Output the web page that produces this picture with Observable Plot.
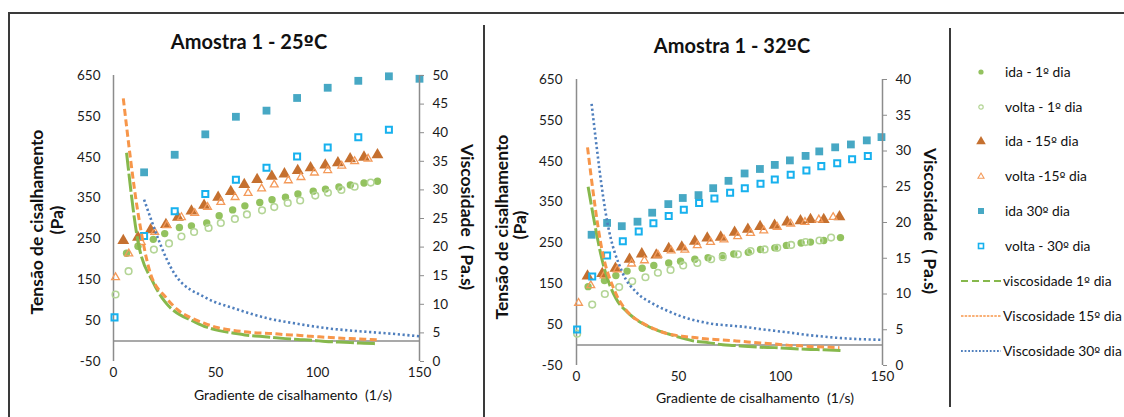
<!DOCTYPE html>
<html>
<head>
<meta charset="utf-8">
<script src="https://cdn.jsdelivr.net/npm/d3@7"></script>
<script src="https://cdn.jsdelivr.net/npm/@observablehq/plot@0.6"></script>
<style>
  body { margin: 0; background: #fff; }
  #chart { position: relative; width: 1124px; height: 417px; overflow: hidden; background: #fff; font-family: Lato, "Open Sans", sans-serif; color: #111; }
  #chart svg.layer { position: absolute; left: 0; top: 0; }
  .txt { position: absolute; white-space: pre; line-height: 1; transform-origin: center center; }
  .frame { position: absolute; background: #3a3a3a; }
  .leg { position: absolute; font-size: 13.8px; white-space: pre; line-height: 1; }
  .ord { font-family: "DejaVu Sans", "Liberation Sans", sans-serif; font-size: 0.92em; }
</style>
</head>
<body>
<div id="chart"></div>
<script>
// ---- Amostra 1 - 25ºC : shear stress (Pa) vs shear rate (1/s)
const ida1_25_x   = [6.4, 12, 19.5, 25.1, 32.3, 38.2, 45.7, 51.8, 58.4, 64.4, 71.7, 77.7, 84.3, 90.4, 97.9, 103.9, 110.5, 116.1, 122.8, 129.4];
const ida1_25_y   = [215, 232, 249, 263, 278, 282, 289, 307, 321, 331, 339, 346, 352, 360, 367, 372, 377, 382, 387, 391];
const volta1_25_x = [1, 7.4, 19.8, 27.2, 33.3, 39.5, 46.6, 52.6, 59.5, 65.4, 72.8, 78.8, 85.4, 91.5, 98.9, 105.1, 111.7, 118.2, 126.1];
const volta1_25_y = [114, 171, 224, 239, 256, 267, 277, 289, 299, 310, 320, 328, 338, 344, 356, 363, 370, 378, 388];
const ida15_25_x  = [4.8, 12, 18.2, 25.7, 31.6, 38.2, 44.4, 51.3, 57.5, 64.1, 70.4, 77.6, 83.8, 90.3, 96.6, 103.8, 110, 116, 122.8, 129.4];
const ida15_25_y  = [246, 254, 272, 285, 303, 318, 332, 352, 366, 383, 395, 403, 409, 417, 424, 431, 436, 446, 450, 456];
const volta15_25_x = [1, 7.5, 13.6, 20.2, 26.1, 33.3, 39.8, 46.1, 52.6, 59.6, 66, 72.6, 78.8, 85.7, 91.9, 98.5, 105, 111.9, 118.2, 124.8];
const volta15_25_y = [156, 214, 242, 267, 283, 303, 313, 328, 340, 352, 362, 373, 383, 393, 401, 412, 418, 429, 440, 446];
const ida30_25_x  = [15, 30, 45, 60, 75, 90, 105, 120, 135, 150];
const ida30_25_y  = [413, 456, 506, 549, 564, 595, 620, 637, 648, 642];
const volta30_25_x = [0.5, 15, 30, 45, 60, 75, 90, 105, 120, 135];
const volta30_25_y = [58, 257, 318, 360, 395, 424, 452, 474, 499, 517];
// viscosity (Pa.s), read at the "ida" shear rates of each day
const visc1_25  = [36.5, 21, 13.8, 10.5, 8.2, 7.2, 6.0, 5.4, 5.0, 4.65, 4.4, 4.2, 4.0, 3.85, 3.7, 3.5, 3.4, 3.3, 3.2, 3.1];
const visc15_25 = [46, 26, 15.3, 11.2, 9.0, 7.6, 6.7, 5.9, 5.5, 5.2, 5.0, 4.9, 4.7, 4.6, 4.4, 4.25, 4.1, 4.0, 3.9, 3.8];
const visc30_25 = [28.3, 15.3, 11.2, 9.2, 7.6, 6.6, 5.8, 5.3, 4.9, 4.4];

// ---- Amostra 1 - 32ºC
const ida1_32_x   = [5.7, 13.7, 19.3, 24.8, 32.2, 37.9, 45.2, 51, 58, 64.5, 71.6, 77.1, 84.2, 90.2, 97.2, 102.9, 110.1, 114.7, 121.2, 129.4];
const ida1_32_y   = [143, 158, 170, 181, 188, 195, 201, 205, 210, 214, 219, 223, 227, 234, 238, 244, 250, 252, 256, 263];
const volta1_32_x = [0.3, 7.7, 13.9, 20.9, 27.3, 33.8, 39.9, 46.1, 52.3, 59.2, 66, 71.7, 79.1, 85.3, 92.2, 98.4, 105.2, 112.3, 119.1, 124.8];
const volta1_32_y = [28, 99, 125, 142, 156, 166, 177, 184, 195, 201, 210, 215, 222, 230, 234, 238, 245, 252, 256, 263];
const ida15_32_x  = [5.4, 12.6, 19.1, 26, 32, 39.1, 45.2, 51.6, 58, 64.1, 70.7, 77.5, 84, 90, 97.1, 103.3, 109.8, 114.7, 121.2, 128.9];
const ida15_32_y  = [169, 175, 188, 210, 223, 220, 236, 240, 254, 262, 264, 276, 283, 290, 293, 301, 304, 307, 307, 314];
const volta15_32_x = [1, 7, 13.5, 20, 27, 33.3, 39.9, 46.4, 53.1, 59.2, 65.7, 72.3, 79, 85.3, 91.8, 98.4, 105, 112, 118.8, 125.8];
const volta15_32_y = [103, 146, 170, 185, 199, 207, 221, 231, 233, 244, 252, 258, 266, 274, 280, 289, 297, 301, 307, 313];
const ida30_32_x  = [7.4, 15, 22.2, 29.9, 37.1, 45, 52.1, 59.8, 67, 74.5, 82.4, 89.9, 97.2, 104.6, 112.3, 119, 126.8, 134.5, 142.3, 149.5];
const ida30_32_y  = [270, 299, 291, 302, 324, 345, 360, 367, 384, 402, 420, 431, 441, 452, 463, 474, 484, 491, 501, 509];
const volta30_32_x = [0.3, 7.7, 15, 22.7, 30.5, 37.7, 45.2, 52.6, 60.1, 67.6, 75.3, 82.5, 90.2, 97.2, 105, 112.7, 120, 127.8, 135.1, 142.8];
const volta30_32_y = [38, 168, 219, 254, 278, 298, 316, 331, 348, 359, 373, 384, 395, 405, 417, 427, 438, 445, 455, 463];
const visc1_32  = [25, 13.5, 9.4, 7.5, 5.9, 5.1, 4.4, 3.9, 3.4, 3.2, 2.9, 2.8, 2.65, 2.55, 2.5, 2.4, 2.3, 2.25, 2.2, 2.1];
const visc15_32 = [30.5, 16, 10.2, 7.2, 6.0, 5.0, 4.4, 4.1, 3.9, 3.7, 3.6, 3.45, 3.3, 3.15, 3.0, 2.85, 2.75, 2.65, 2.6, 2.5];
const visc30_32 = [36.6, 20.2, 13.2, 10.1, 8.7, 7.6, 6.8, 6.2, 5.8, 5.6, 5.4, 5.1, 4.85, 4.6, 4.3, 4.1, 3.9, 3.75, 3.65, 3.6];

// ---- axes ticks and legend labels
const xTicks = [0, 50, 100, 150];
const stressTicks = [-50, 50, 150, 250, 350, 450, 550, 650];
const viscTicks25 = [0, 5, 10, 15, 20, 25, 30, 35, 40, 45, 50];
const viscTicks32 = [0, 5, 10, 15, 20, 25, 30, 35, 40];
const legendLabels = ["ida - 1º dia", "volta - 1º dia", "ida - 15º dia", "volta -15º dia", "ida 30º dia", "volta - 30º dia", "viscosidade 1º dia", "Viscosidade 15º dia", "Viscosidade 30º dia"];

// ---- styles
const C = {
  ida1: "#93C25F", volta1: "#B4D596", ida15: "#C5702F", volta15: "#F49A5A",
  ida30: "#47A8C4", volta30: "#17B1EE", v1: "#86B84C", v15: "#F7964A", v30: "#4F7FBD",
  axis: "#8c8c8c", text: "#1a1a1a"
};
// dash patterns of the three viscosity curves, in mark order
const DASHES = ["18,3", "7,3.5", "2.2,2.6"];
const FONT = "Lato, 'Open Sans', sans-serif";
const W = 1124, H = 417;
const chart = document.getElementById("chart");
const rows = (xs, ys) => xs.map((x, i) => ({x, y: ys[i]}));

function layer(svg) {
  svg.classList.add("layer");
  svg.style.pointerEvents = "none";
  chart.appendChild(svg);
  return svg;
}

function panel(p) {
  const frame = {
    width: W, height: H,
    marginLeft: p.x0, marginRight: W - p.x1, marginTop: p.yTop, marginBottom: H - p.yBot,
    style: {background: "transparent", fontFamily: FONT, fontSize: "13.5px", color: C.text, overflow: "visible"}
  };
  // stress layer (left axis)
  layer(Plot.plot({
    ...frame,
    x: {domain: [0, 150]},
    y: {domain: [-50, 650]},
    marks: [
      Plot.axisX({ticks: xTicks, tickSize: 0, tickPadding: 6, tickFormat: d => String(d), label: null}),
      Plot.axisY({ticks: stressTicks, tickSize: 0, tickPadding: p.padL, tickFormat: d => String(d), label: null}),
      Plot.ruleX([0], {stroke: C.axis, strokeWidth: 1.5}),
      Plot.ruleY([0], {stroke: C.axis, strokeWidth: 1.5}),
      Plot.dot(rows(p.ida1x, p.ida1y), {x: "x", y: "y", symbol: "circle", r: 3.7, fill: C.ida1}),
      Plot.dot(rows(p.volta1x, p.volta1y), {x: "x", y: "y", symbol: "circle", r: 3.3, stroke: C.volta1, strokeWidth: 1.6, fill: "none"}),
      Plot.dot(rows(p.ida15x, p.ida15y), {x: "x", y: "y", symbol: "triangle", r: 4.4, fill: C.ida15}),
      Plot.dot(rows(p.volta15x, p.volta15y), {x: "x", y: "y", symbol: "triangle", r: 2.9, stroke: C.volta15, strokeWidth: 1.3, fill: "none"}),
      Plot.dot(rows(p.ida30x, p.ida30y), {x: "x", y: "y", symbol: "square", r: 4.4, fill: C.ida30}),
      Plot.dot(rows(p.volta30x, p.volta30y), {x: "x", y: "y", symbol: "square", r: 3.4, stroke: C.volta30, strokeWidth: 2, fill: "none"})
    ]
  }));
  // viscosity layer (right axis)
  const svg = layer(Plot.plot({
    ...frame,
    x: {domain: [0, 150], axis: null},
    y: {domain: [0, p.vMax]},
    marks: [
      Plot.ruleX([150], {stroke: C.axis, strokeWidth: 1.5}),
      Plot.axisY({anchor: "right", ticks: p.vTicks, tickSize: 4, tickPadding: p.padR, stroke: C.axis, tickFormat: d => String(d), label: null}),
      Plot.line(rows(p.ida1x, p.v1), {x: "x", y: "y", curve: "monotone-x", stroke: C.v1, strokeWidth: 3}),
      Plot.line(rows(p.ida15x, p.v15), {x: "x", y: "y", curve: "monotone-x", stroke: C.v15, strokeWidth: 3}),
      Plot.line(rows(p.ida30x, p.v30), {x: "x", y: "y", curve: "monotone-x", stroke: C.v30, strokeWidth: 2.6})
    ]
  }));
  svg.querySelectorAll('g[aria-label="line"]').forEach((g, i) => {
    g.querySelectorAll("path").forEach(el => {
      el.style.strokeDasharray = DASHES[i];
      el.style.strokeLinecap = "butt";
    });
  });
}

panel({
  x0: 113, x1: 419, yTop: 75, yBot: 361, padL: 13, padR: 9, vMax: 50, vTicks: viscTicks25,
  ida1x: ida1_25_x, ida1y: ida1_25_y, volta1x: volta1_25_x, volta1y: volta1_25_y,
  ida15x: ida15_25_x, ida15y: ida15_25_y, volta15x: volta15_25_x, volta15y: volta15_25_y,
  ida30x: ida30_25_x, ida30y: ida30_25_y, volta30x: volta30_25_x, volta30y: volta30_25_y,
  v1: visc1_25, v15: visc15_25, v30: visc30_25
});
panel({
  x0: 576, x1: 882, yTop: 79, yBot: 365, padL: 14, padR: 9, vMax: 40, vTicks: viscTicks32,
  ida1x: ida1_32_x, ida1y: ida1_32_y, volta1x: volta1_32_x, volta1y: volta1_32_y,
  ida15x: ida15_32_x, ida15y: ida15_32_y, volta15x: volta15_32_x, volta15y: volta15_32_y,
  ida30x: ida30_32_x, ida30y: ida30_32_y, volta30x: volta30_32_x, volta30y: volta30_32_y,
  v1: visc1_32, v15: visc15_32, v30: visc30_32
});

// ---- titles and axis titles (the ordinal sign gets a font that underlines it)
function setText(el, str) {
  str.split("º").forEach((part, i) => {
    if (i > 0) {
      const o = document.createElement("span");
      o.className = "ord";
      o.textContent = "º";
      el.appendChild(o);
    }
    el.appendChild(document.createTextNode(part));
  });
}
function text(str, x, y, size, weight, rot = 0) {
  const d = document.createElement("div");
  d.className = "txt";
  setText(d, str);
  d.style.left = x + "px";
  d.style.top = y + "px";
  d.style.fontSize = size + "px";
  d.style.fontWeight = weight;
  d.style.transform = `translate(-50%, -50%) rotate(${rot}deg)`;
  chart.appendChild(d);
}
text("Amostra 1 - 25ºC", 249, 42, 20, 700);
text("Amostra 1 - 32ºC", 732, 46, 20, 700);
text("Tensão de cisalhamento", 37, 222, 17.5, 700, -90);
text("(Pa)", 57, 220, 17.5, 700, -90);
text("Tensão de cisalhamento", 502, 227, 17.5, 700, -90);
text("(Pa)", 520, 225, 17.5, 700, -90);
text("Viscosidade  ( Pa.s)", 467, 217, 17.5, 700, 90);
text("Viscosidade  ( Pa.s)", 930, 221, 17.5, 700, 90);
text("Gradiente de cisalhamento  (1/s)", 293, 395, 14, 400);
text("Gradiente de cisalhamento  (1/s)", 755, 398, 14, 400);

// ---- panel borders
function line(x, y, w, h) {
  const d = document.createElement("div");
  d.className = "frame";
  Object.assign(d.style, {left: x + "px", top: y + "px", width: w + "px", height: h + "px"});
  chart.appendChild(d);
}
line(8, 12, W - 8, 2);
line(8, 12, 1.5, H - 12);
line(483, 25, 1.5, H - 25);
line(949, 28, 1.5, 379);

// ---- legend
const legendY = [72, 107, 141, 176, 211, 246, 281, 316, 351];
const legendKeys = [
  `<circle cx="8" cy="8" r="2.6" fill="${C.ida1}"/>`,
  `<circle cx="8" cy="8" r="2.2" fill="none" stroke="${C.volta1}" stroke-width="1.2"/>`,
  `<path d="${d3.symbol(d3.symbolTriangle, 40)()}" transform="translate(8,8.5)" fill="${C.ida15}"/>`,
  `<path d="${d3.symbol(d3.symbolTriangle, 16)()}" transform="translate(8,8.5)" fill="none" stroke="${C.volta15}" stroke-width="1.1"/>`,
  `<rect x="5" y="5" width="6" height="6" fill="${C.ida30}"/>`,
  `<rect x="5.5" y="5.5" width="5" height="5" fill="none" stroke="${C.volta30}" stroke-width="1.6"/>`
];
legendLabels.forEach((lab, i) => {
  const y = legendY[i];
  const s = document.createElementNS("http://www.w3.org/2000/svg", "svg");
  s.style.position = "absolute";
  if (i < 6) {
    s.setAttribute("width", 16); s.setAttribute("height", 16);
    s.style.left = "973px"; s.style.top = (y - 8) + "px";
    s.innerHTML = legendKeys[i];
  } else {
    s.setAttribute("width", 42); s.setAttribute("height", 6);
    s.style.left = "961px"; s.style.top = (y - 3) + "px";
    const st = [[C.v1, "7,4", 1.8], [C.v15, "2.5,1.2", 1.4], [C.v30, "1.8,1.8", 1.8]][i - 6];
    s.innerHTML = `<line x1="0" y1="3" x2="40" y2="3" stroke="${st[0]}" stroke-dasharray="${st[1]}" stroke-width="${st[2]}"/>`;
  }
  chart.appendChild(s);
  const d = document.createElement("div");
  d.className = "leg";
  setText(d, lab);
  d.style.left = (i < 6 ? 1005 : 1003) + "px";
  d.style.top = (y - 7) + "px";
  chart.appendChild(d);
});
</script>
</body>
</html>
